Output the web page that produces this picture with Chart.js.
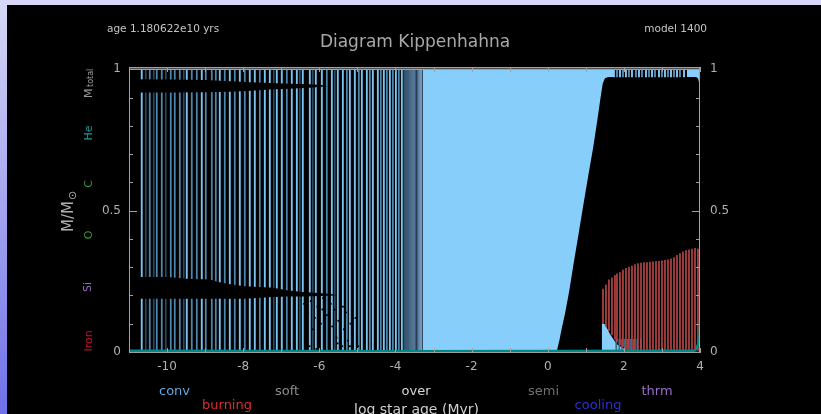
<!DOCTYPE html>
<html><head><meta charset="utf-8">
<script src="https://cdn.jsdelivr.net/npm/chart.js@4.4.1/dist/chart.umd.min.js"></script>
<style>
html,body{margin:0;padding:0;}
body{width:821px;height:414px;overflow:hidden;background:linear-gradient(to bottom,#d8d8f6,#7070e8);position:relative;}
#wrap{position:absolute;left:7px;top:5px;width:814px;height:409px;background:#000;}
canvas{display:block;}
</style></head><body>
<div id="wrap"><canvas id="c" width="814" height="409"></canvas></div>
<script>
// ---------- data (log star age in Myr, mass coordinate M/Msun) ----------
const xTicks = [-10, -8, -6, -4, -2, 0, 2, 4];
const yTicks = [0, 0.5, 1];

// convective zones of the early models (full-height lines)
const convLightX = [-10.665, -9.482, -9.088, -8.615, -8.352, -8.089, -7.827, -7.695, -7.432, -7.301, -7.117, -6.986, -6.723, -6.591, -6.434, -6.250, -6.092, -5.934, -5.671, -5.514, -5.382, -5.198, -5.067, -4.883, -4.752, -4.594, -4.463, -4.305, -4.147, -3.989, -3.832];
const convMidX = [-10.455, -10.271, -10.139, -9.903, -9.798, -9.666, -9.351, -9.219, -8.983, -8.825, -8.720, -8.484, -8.221, -7.958, -7.564, -6.854, -5.803, -5.277, -4.962, -4.673, -4.384, -4.226, -4.068, -3.911];
const convDarkX = [-10.560, -10.350, -10.034, -9.561, -7.196, -6.512, -6.171, -5.593];
const transX = [-3.753, -3.700, -3.648, -3.595, -3.542, -3.490, -3.437, -3.384, -3.332];
// fully convective stretch
const convEnvX = [-3.288, 4.0];

// radiative region (main sequence onwards): upper boundary
const radX = [0.234, 0.304, 0.373, 0.452, 0.566, 0.670, 0.802, 0.933, 1.065, 1.196, 1.301, 1.390, 1.443, 1.503, 1.590, 3.895, 3.947, 3.973, 3.987, 3.988];
const radY = [0.0, 0.039, 0.086, 0.134, 0.216, 0.305, 0.411, 0.518, 0.624, 0.725, 0.819, 0.902, 0.949, 0.968, 0.973, 0.973, 0.968, 0.954, 0.890, 0.0];
// outer thin envelope above the radiative zone
const stripX = [1.714, 3.658];
const stripBase = 0.973;
const stripLightX = [1.740, 1.898, 2.055, 2.213, 2.397, 2.581, 2.739, 2.923, 3.080, 3.238, 3.396, 3.580];
const stripSteelX = [1.819, 1.976, 2.134, 2.318, 2.476, 2.660, 2.818, 3.001, 3.159, 3.317, 3.474];
// small convective core
const notchX = [1.417, 1.420, 1.503, 1.634, 1.811, 2.074, 2.239];
const notchY = [0.0, 0.100, 0.098, 0.063, 0.027, 0.006, 0.0];
const semiCoreX = [1.80, 1.88, 1.95, 2.02, 2.10, 2.18, 2.26, 2.35, 2.45];

// burning zones
const burnX = [1.451, 1.530, 1.608, 1.687, 1.766, 1.819, 1.898, 1.976, 2.055, 2.134, 2.213, 2.292, 2.371, 2.450, 2.528, 2.607, 2.686, 2.765, 2.844, 2.923, 3.001, 3.080, 3.159, 3.238, 3.317, 3.396, 3.474, 3.553, 3.632, 3.711, 3.790, 3.869, 3.947];
const burnTop = [0.222, 0.236, 0.255, 0.262, 0.270, 0.276, 0.281, 0.289, 0.296, 0.300, 0.304, 0.309, 0.312, 0.314, 0.316, 0.316, 0.318, 0.319, 0.320, 0.320, 0.322, 0.324, 0.326, 0.329, 0.334, 0.342, 0.348, 0.354, 0.358, 0.361, 0.364, 0.366, 0.364];
const burnBottom = [0.100, 0.090, 0.075, 0.060, 0.045, 0.035, 0.025, 0.018, 0.010, 0.005, 0.005, 0.005, 0.005, 0.005, 0.005, 0.005, 0.005, 0.005, 0.005, 0.005, 0.005, 0.005, 0.005, 0.005, 0.005, 0.005, 0.005, 0.005, 0.005, 0.005, 0.005, 0.005, 0.005];

// radiative bands in the early models
const upperBandX = [-11.0, -10.0, -9.0, -8.35, -7.8, -7.3, -6.8, -6.25, -5.95, -5.78];
const upperBandTop = [0.965, 0.964, 0.962, 0.958, 0.954, 0.951, 0.949, 0.947, 0.944, 0.940];
const upperBandBot = [0.918, 0.918, 0.919, 0.920, 0.924, 0.928, 0.931, 0.935, 0.938, 0.940];
const lowerBandX = [-11.0, -10.02, -9.49, -8.88, -8.66, -8.35, -7.96, -7.21, -6.86, -6.43, -5.72, -5.55];
const lowerBandTop = [0.265, 0.265, 0.259, 0.256, 0.247, 0.239, 0.232, 0.227, 0.218, 0.212, 0.206, 0.200];
const lowerBandBot = [0.188, 0.188, 0.188, 0.188, 0.188, 0.188, 0.188, 0.194, 0.196, 0.196, 0.199, 0.200];
const speckX = [-6.40, -6.38, -6.33, -6.30, -6.22, -6.18, -6.12, -6.05, -6.02, -5.96, -5.90, -5.86, -5.80, -5.75, -5.70, -5.66, -5.60, -5.55, -5.50, -5.46, -5.40, -5.35, -5.30, -5.25, -5.18, -5.12, -5.05, -4.98, -6.26, -6.08, -5.92, -5.72, -5.52, -5.38, -5.20];
const speckY = [0.17, 0.10, 0.05, 0.14, 0.18, 0.08, 0.12, 0.16, 0.04, 0.10, 0.19, 0.07, 0.13, 0.03, 0.17, 0.09, 0.15, 0.05, 0.11, 0.18, 0.02, 0.08, 0.14, 0.04, 0.10, 0.06, 0.12, 0.02, 0.02, 0.01, 0.15, 0.01, 0.03, 0.16, 0.02];

// He core boundary and total mass
const heX = [-11.0, 3.85, 3.92, 3.97, 3.99, 4.0, 4.03];
const heY = [0.004, 0.004, 0.017, 0.035, 0.052, 0.09, 0.2];
const mTotX = [-11.0, 4.0];
const mTotY = [1.0, 1.0];

// ---------- styles ----------
const LIGHT = '#87cefa';
const transColors = ['#34526c', '#3a5974', '#3d5d79', '#4b6d8c', '#4f7190', '#56799b', '#2b3d4f', '#5a80a2', '#6d97bd'];
const FONT = 'DejaVu Sans';

const pts = (xs, ys) => xs.map((x, i) => ({x, y: ys[i]}));
const bars = (xs, lo, hi) => xs.map((x, i) => ({x, y: [Array.isArray(lo) ? lo[i] : lo, Array.isArray(hi) ? hi[i] : hi]}));
const barDs = (data, color, order, thick) => ({type: 'bar', data, backgroundColor: color, borderWidth: 0, barThickness: thick, grouped: false, order});
const fillDs = (data, color, fill, order) => ({type: 'line', data, borderWidth: 0, pointRadius: 0, backgroundColor: color, fill, tension: 0, order});

const framePlugin = {
  id: 'frame',
  afterDatasetsDraw(chart) {
    const {ctx, chartArea: a, scales: {x, y}} = chart;
    ctx.save();
    ctx.strokeStyle = '#a0a0a0';
    ctx.lineWidth = 1;
    ctx.strokeRect(a.left + 0.5, a.top + 0.5, a.right - a.left - 1, a.bottom - a.top - 1);
    ctx.beginPath();
    for (let v = -11; v <= 4; v++) {
      const px = Math.round(x.getPixelForValue(v)) + 0.5;
      ctx.moveTo(px, a.bottom); ctx.lineTo(px, a.bottom - 5);
      ctx.moveTo(px, a.top); ctx.lineTo(px, a.top + 5);
    }
    for (let k = 0; k <= 10; k++) {
      const py = Math.round(y.getPixelForValue(k / 10)) + 0.5;
      const len = (k % 5 === 0) ? 8 : 4;
      ctx.moveTo(a.left, py); ctx.lineTo(a.left + len, py);
      ctx.moveTo(a.right, py); ctx.lineTo(a.right - len, py);
    }
    ctx.stroke();
    ctx.restore();
  }
};

function txt(ctx, s, x, y, color, size, align, rot) {
  ctx.save();
  ctx.translate(x, y);
  if (rot) ctx.rotate(rot);
  ctx.font = size + 'px "' + FONT + '"';
  ctx.fillStyle = color;
  ctx.textAlign = align || 'center';
  ctx.textBaseline = 'middle';
  ctx.fillText(s, 0, 0);
  ctx.restore();
}

const textPlugin = {
  id: 'texts',
  afterDraw(chart) {
    const ctx = chart.ctx;
    const R = -Math.PI / 2;
    txt(ctx, 'age 1.180622e10 yrs', 100, 24, '#c4c4c4', 10.5, 'left');
    txt(ctx, 'Diagram Kippenhahna', 408, 38, '#a8a8a8', 17, 'center');
    txt(ctx, 'model 1400', 700, 24, '#c4c4c4', 10.5, 'right');
    // left side labels (rotated)
    ctx.save();
    ctx.translate(82, 93);
    ctx.rotate(R);
    ctx.font = '11px "' + FONT + '"';
    ctx.fillStyle = '#9a9a9a';
    ctx.textBaseline = 'middle';
    ctx.textAlign = 'left';
    ctx.fillText('M', 0, 0);
    ctx.font = '8px "' + FONT + '"';
    ctx.fillText('total', 11, 2);
    ctx.restore();
    txt(ctx, 'He', 82, 128, '#1a9a9a', 11, 'center', R);
    txt(ctx, 'C', 82, 179, '#3a9a3a', 11, 'center', R);
    txt(ctx, 'O', 82, 230, '#3a9a3a', 11, 'center', R);
    txt(ctx, 'Si', 81, 282, '#9a6ccc', 11, 'center', R);
    txt(ctx, 'Iron', 82, 336, '#c01030', 11, 'center', R);
    ctx.save();
    ctx.translate(62, 227);
    ctx.rotate(R);
    ctx.font = '15px "' + FONT + '"';
    ctx.fillStyle = '#b0b0b0';
    ctx.textBaseline = 'middle';
    ctx.textAlign = 'left';
    ctx.fillText('M/M', 0, 0);
    const w = ctx.measureText('M/M').width;
    ctx.font = '11px "' + FONT + '"';
    ctx.fillText('\u2299', w + 1, 4);
    ctx.restore();
    // bottom legend words
    txt(ctx, 'conv', 167.5, 386.5, '#5fa8e0', 13);
    txt(ctx, 'soft', 280, 386.5, '#8c8c8c', 13);
    txt(ctx, 'over', 409, 386.5, '#d8d8d8', 13);
    txt(ctx, 'semi', 536.5, 386.5, '#707070', 13);
    txt(ctx, 'thrm', 650, 386.5, '#9a6cc8', 13);
    txt(ctx, 'burning', 220, 400.5, '#d83030', 13);
    txt(ctx, 'log star age (Myr)', 409.5, 405.5, '#d0d0d0', 14);
    txt(ctx, 'cooling', 591, 400.5, '#2a30d0', 13);
  }
};

const datasets = [
  fillDs(pts(convEnvX, [1, 1]), LIGHT, 'origin', 100),
  barDs(bars(convDarkX, 0, 1), '#2b4a62', 92, 1),
  barDs(bars(convMidX, 0, 1), '#4f86ad', 91, 1.1),
  barDs(bars(convLightX, 0, 1), '#7cc4f0', 90, 1.2),
  barDs(bars(transX, 0, 1), transColors, 89, 2.2),
  fillDs(pts(radX, radY), '#000000', 'origin', 80),
  fillDs(pts(stripX, [1, 1]), '#000000', {value: stripBase}, 79),
  barDs(bars(stripSteelX, stripBase, 1), '#5a8db5', 78, 1.2),
  barDs(bars(stripLightX, stripBase, 1), LIGHT, 77, 1.2),
  fillDs(pts(notchX, notchY), LIGHT, 'origin', 76),
  barDs(bars(semiCoreX, 0.005, 0.045), '#3f6784', 75, 1),
  barDs(bars(burnX, burnBottom, burnTop), '#b84646', 74, 1),
  fillDs(pts(upperBandX, upperBandTop), '#000000', '+1', 70),
  fillDs(pts(upperBandX, upperBandBot), 'rgba(0,0,0,0)', false, 70),
  fillDs(pts(lowerBandX, lowerBandTop), '#000000', '+1', 70),
  fillDs(pts(lowerBandX, lowerBandBot), 'rgba(0,0,0,0)', false, 70),
  {type: 'scatter', data: pts(speckX, speckY), pointRadius: 1.3, pointStyle: 'rect', backgroundColor: '#000', borderWidth: 0, order: 69},
  {type: 'line', data: pts(mTotX, mTotY), borderColor: '#a0a0a0', borderWidth: 1.5, pointRadius: 0, fill: false, order: 60},
  {type: 'line', data: pts(heX, heY), borderColor: '#008b8b', borderWidth: 2.5, pointRadius: 0, fill: false, tension: 0.3, order: 59}
];

const tickFont = {family: FONT, size: 12};
new Chart(document.getElementById('c'), {
  type: 'bar',
  data: {datasets},
  options: {
    responsive: false,
    animation: false,
    events: [],
    layout: {padding: {top: 62, left: 0, right: 0, bottom: 0}},
    plugins: {legend: {display: false}, tooltip: {enabled: false}, title: {display: false}},
    scales: {
      x: {
        type: 'linear', min: -11, max: 4, offset: false, position: 'bottom',
        grid: {display: false, drawTicks: false, offset: false}, border: {display: false},
        ticks: {color: '#b0b0b0', font: tickFont, padding: 7, maxRotation: 0, autoSkip: false},
        afterBuildTicks: s => { s.ticks = xTicks.map(v => ({value: v})); },
        afterFit: s => { s.height = 61; }
      },
      y: {
        type: 'linear', min: -0.004, max: 1.008, position: 'left',
        grid: {display: false, drawTicks: false}, border: {display: false},
        ticks: {color: '#b0b0b0', font: tickFont, padding: 8, callback: v => String(v)},
        afterBuildTicks: s => { s.ticks = yTicks.map(v => ({value: v})); },
        afterFit: s => { s.width = 122; }
      },
      y2: {
        type: 'linear', min: -0.004, max: 1.008, position: 'right',
        grid: {display: false, drawTicks: false}, border: {display: false},
        ticks: {color: '#b0b0b0', font: tickFont, padding: 10, callback: v => String(v)},
        afterBuildTicks: s => { s.ticks = yTicks.map(v => ({value: v})); },
        afterFit: s => { s.width = 121; }
      }
    }
  },
  plugins: [framePlugin, textPlugin]
});
</script></body></html>
